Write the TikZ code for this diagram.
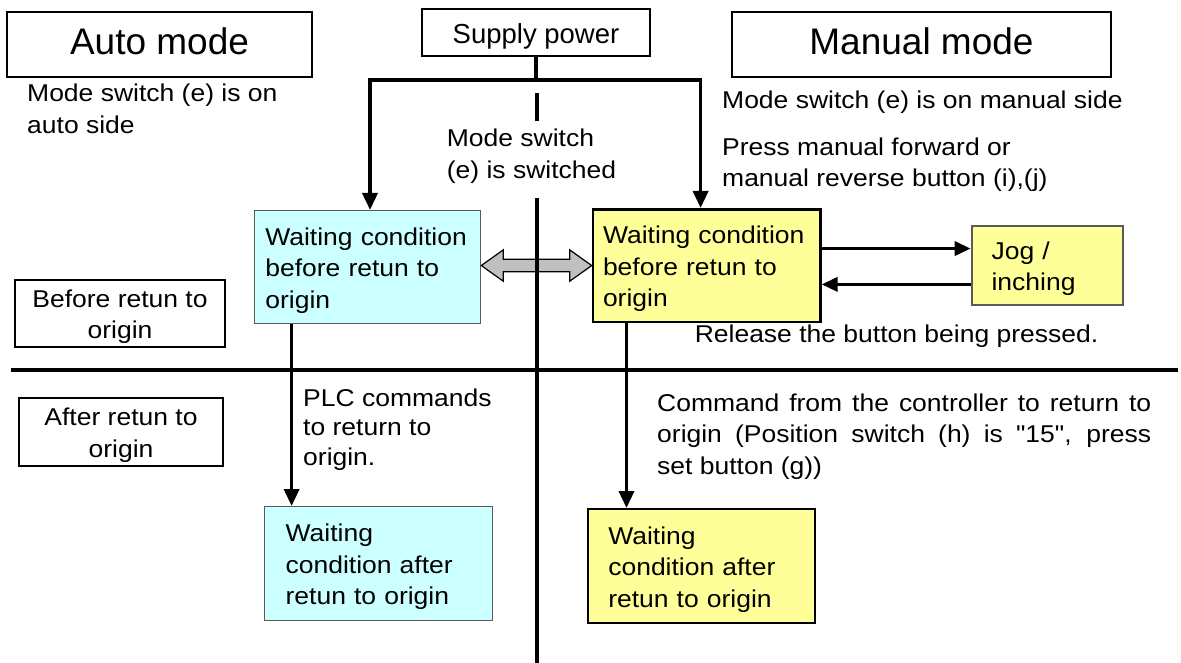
\documentclass[tikz,border=0pt]{standalone}
\usepackage{fontspec}
\setmainfont{Liberation Sans}[FakeStretch=1.09,Ligatures=TeXOff]
\newfontfamily\titlef{Liberation Sans}[Ligatures=TeXOff]
\usetikzlibrary{arrows.meta,calc}
\definecolor{cyanfill}{RGB}{204,255,255}
\definecolor{yelfill}{RGB}{255,255,153}
\definecolor{arrgray}{RGB}{192,192,192}
\definecolor{bordgray}{RGB}{90,90,90}
\newcommand{\fs}{\rule{0pt}{24.5pt}}
\begin{document}
\begin{tikzpicture}[x=1pt,y=-1pt,
  body/.style={font=\fontsize{24.3}{31.5}\selectfont},
  freetext/.style={body,align=left,anchor=north west,inner sep=0pt},
  titlebox/.style={draw,line width=2.5pt,inner sep=0pt,font=\titlef\fontsize{37}{44}\selectfont,text height=26.6pt,text depth=5.6pt},
  labelbox/.style={draw,line width=2pt,inner sep=0pt,align=center,body},
  statebox/.style={body,align=left,anchor=north west,inner ysep=0pt},
  bluebox/.style={statebox,fill=cyanfill,draw=bordgray,line width=1.3pt},
  yelbox/.style={statebox,fill=yelfill,draw=black},
  conn/.style={line width=3.5pt},
  arr/.style={-{Triangle[length=17pt,width=15pt]}},
  sarr/.style={-{Triangle[length=16pt,width=14pt]}}
]
\useasboundingbox[fill=white] (0,0) rectangle (1181,663);

% title boxes
\node[titlebox,minimum width=305pt,minimum height=65pt] (auto) at (159.5,44.5) {Auto mode};
\node[titlebox,minimum width=379pt,minimum height=65pt] (manual) at (921.5,44.5) {Manual mode};
\node[draw,line width=2.2pt,inner sep=0pt,minimum width=228pt,minimum height=46.4pt,
      font=\titlef\fontsize{27.5}{33}\selectfont,text height=21.6pt,text depth=0pt] (sp) at (536,32.5) {Supply power};

% phase labels
\node[labelbox,minimum width=210pt,minimum height=67pt] (before) at (120,313.5) {\fs Before retun to\\origin};
\node[labelbox,minimum width=204pt,minimum height=68pt] (after) at (121,432) {\fs After retun to\\origin};

% state boxes
\node[bluebox,minimum height=113pt,inner xsep=11pt,text width=204.3pt] (b1) at (253.7,210) {\fs Waiting condition\\before retun to\\origin};
\node[yelbox,line width=2.6pt,minimum height=112.5pt,inner xsep=10pt,text width=207.3pt] (y1) at (591.7,208) {\fs Waiting condition\\before retun to\\origin};
\node[yelbox,draw=bordgray,line width=1.8pt,minimum height=79pt,inner xsep=20pt,text width=111pt] (jog) at (970.7,225) {\fs Jog /\\inching};
\node[bluebox,minimum height=114pt,inner xsep=21pt,text width=186pt] (b2) at (264,506) {\fs Waiting\\condition after\\retun to origin};
\node[yelbox,line width=1.6pt,minimum height=114pt,inner xsep=20.5pt,text width=186pt] (y2) at (587,508) {\fs Waiting\\condition after\\retun to origin};

% free texts
\node[freetext] (tauto) at (27,77.2) {\fs Mode switch (e) is on\\auto side};
\node[freetext] (tsw) at (446.7,122.2) {\fs Mode switch\\(e) is switched};
\node[freetext] (tman) at (722,83.5) {\fs Mode switch (e) is on manual side};
\node[freetext,font=\fontsize{24.3}{31.7}\selectfont] (tpress) at (722,130.5) {\fs Press manual forward or\\manual reverse button (i),(j)};
\node[freetext] (trel) at (694.6,317.5) {\fs Release the button being pressed.};
\node[freetext,font=\fontsize{24.3}{29.5}\selectfont] (tplc) at (303,381.5) {\fs PLC commands\\to return to\\origin.};
\node[body,anchor=north west,inner sep=0pt,text width=494pt,align=justify] (tcmd) at (657,386.5)
  {\fs Command from the controller to return to\linebreak origin (Position switch (h) is "15", press\linebreak set button (g))};

% double arrow between modes
\coordinate (dl) at (b1.east |- y1.west);
\filldraw[fill=arrgray,draw=black,line width=1.2pt,line join=miter]
  (dl) -- ++(22,-15.7) -- ++(0,9.4) -- ($(y1.west)+(-22,-6.3)$) -- ++(0,-9.4) -- (y1.west)
  -- ++(-22,15.7) -- ++(0,-9.4) -- ($(dl)+(22,6.3)$) -- ++(0,9.4) -- cycle;

% dividers
\draw[line width=4.5pt] (11,370) -- (1178,370);
\draw[line width=4pt] (537,93) -- (537,121);
\draw[line width=4pt] (537,198) -- (537,663);

% connectors from supply power
\coordinate (jL) at (370,80);
\coordinate (jR) at (700.6,80);
\coordinate (jM) at (sp.south |- jL);
\draw[conn] (sp.south) -- (jM);
\draw[conn,arr] (jM) -| (jL |- b1.north);
\draw[conn,arr] (jM) -| (jR |- y1.north);

% jog arrows
\draw[conn,sarr] ([yshift=17pt]y1.east) -- ([yshift=17pt]y1.east -| jog.west);
\draw[conn,sarr] ([yshift=-19pt]jog.west) -- ([yshift=-19pt]jog.west -| y1.east);

% return-to-origin arrows
\draw[conn,arr] ([xshift=37.9pt]b1.south west) -- ([xshift=37.9pt]b1.south west |- b2.north);
\draw[conn,arr] ([xshift=34.8pt]y1.south west) -- ([xshift=34.8pt]y1.south west |- y2.north);
\end{tikzpicture}
\end{document}
